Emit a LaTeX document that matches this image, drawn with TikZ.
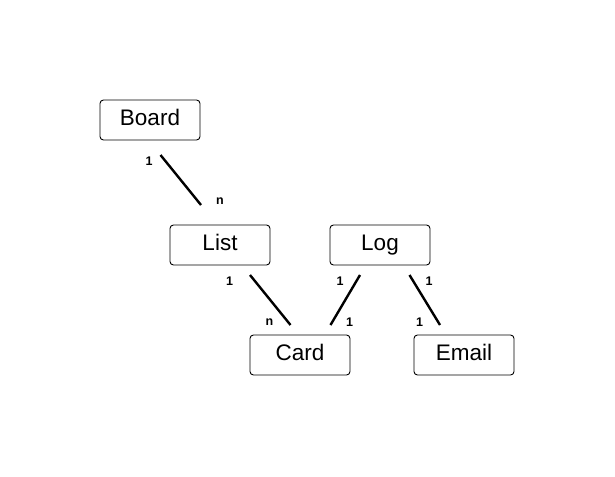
\documentclass[tikz,border=0pt]{standalone}
\usepackage{fontspec}
\setmainfont{Liberation Sans}
\begin{document}
\begin{tikzpicture}[x=1pt,y=-1pt,
  entity/.style={draw=black, line width=0.9pt, rounded corners=3.5pt, minimum width=100pt, minimum height=40pt, inner sep=0pt, text height=16.5pt, text depth=5pt, font=\fontsize{22.5}{26}\selectfont},
  rel/.style={line width=2.4pt, line cap=butt},
  card/.style={font=\fontsize{12.5}{14}\selectfont\bfseries, inner sep=0pt}]
\useasboundingbox (0,0) rectangle (615,476);
\node[entity] (board) at (150,120) {Board};
\node[entity] (list) at (220,245) {List};
\node[entity] (log) at (380,245) {Log};
\node[entity] (cardn) at (300,355) {Card};
\node[entity] (email) at (464,355) {Email};
\coordinate (b1) at (160.5,155);
\coordinate (b2) at (201,205);
\coordinate (l1) at (250,275);
\coordinate (l2) at (290.5,325);
\coordinate (g1) at (360,275);
\coordinate (g2) at (330.5,325);
\coordinate (e1) at (409.5,275);
\coordinate (e2) at (440,325);
\draw[rel] (b1) -- (b2);
\draw[rel] (l1) -- (l2);
\draw[rel] (g1) -- (g2);
\draw[rel] (e1) -- (e2);
\node[card] (lb1) at (149,161.5) {1};
\node[card] (lb2) at (220,201.5) {n};
\node[card] (ll1) at (229.5,281.5) {1};
\node[card] (ll2) at (269.5,322.5) {n};
\node[card] (lg1) at (340,281.5) {1};
\node[card] (lg2) at (349.5,322) {1};
\node[card] (le1) at (429,281.5) {1};
\node[card] (le2) at (419.5,322) {1};
\end{tikzpicture}
\end{document}
